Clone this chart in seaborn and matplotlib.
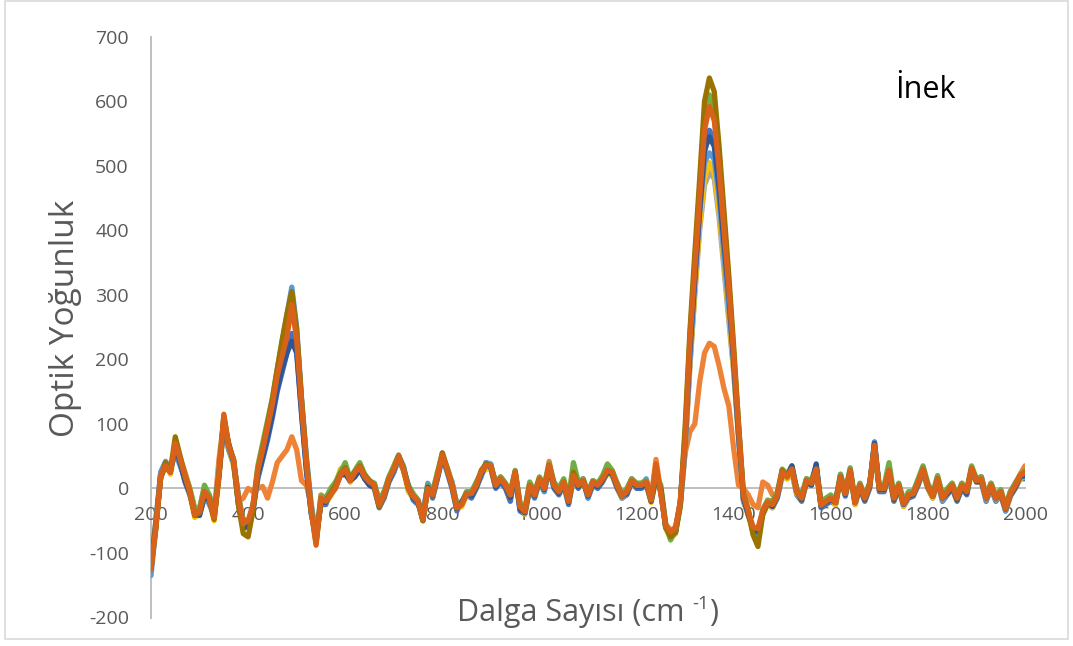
import numpy as np
import pandas as pd
import matplotlib
matplotlib.use("Agg")
import matplotlib.pyplot as plt
import seaborn as sns
from matplotlib.patches import Rectangle

# ---------------- data ----------------
wavenumber = list(range(200, 2001, 10))

s_blue = [
    -115, -50, 25, 40, 30, 60, 40, 10, -10, -35,
    -40, -15, -20, -40, 25, 100, 70, 40, -25, -60,
    -55, -35, 15, 45, 75, 110, 150, 180, 210, 240,
    215, 120, 30, -40, -70, -25, -25, -5, 5, 25,
    25, 15, 20, 28, 15, 5, 0, -30, -15, 10,
    25, 45, 28, 5, -18, -25, -40, 5, -15, 15,
    48, 25, 0, -35, -20, -10, -15, 0, 20, 40,
    30, 0, 10, 0, -20, 20, -35, -40, 0, -15,
    10, -5, 30, 0, -10, 5, -25, 15, 0, 15,
    -15, 5, 0, 10, 25, 20, 0, -15, -10, 10,
    0, 0, 5, -20, 15, -5, -60, -75, -70, -25,
    70, 200, 310, 420, 520, 555, 540, 470, 380, 295,
    190, 80, -20, -40, -65, -70, -40, -25, -30, -15,
    20, 15, 25, -10, -20, 10, 5, 35, -30, -25,
    -20, -25, 15, -12, 25, -25, 0, -20, 0, 72,
    -5, -5, 22, -20, 0, -28, -15, -12, 5, 25,
    0, -15, 10, -20, -10, 0, -20, 0, -10, 28,
    10, 10, -20, 0, -20, -10, -35, -12, 0, 15,
    15]

s_orange_low = [
    -120, -55, 15, 38, 30, 65, 48, 25, 0, -35,
    -30, 0, -10, -40, 45, 105, 60, 40, -20, -15,
    0, -5, 0, 3, -15, 10, 40, 50, 60, 80,
    60, 12, 5, -25, -80, -10, -15, -5, 5, 25,
    32, 10, 25, 32, 20, 8, 5, -22, -8, 15,
    28, 48, 28, 2, -15, -18, -45, 2, -12, 22,
    50, 28, 8, -28, -22, -10, -5, 5, 22, 35,
    32, 5, 18, 8, -8, 25, -25, -35, 8, -12,
    15, 2, 42, 5, -2, 8, -18, 22, 8, 10,
    -8, 12, 5, 18, 25, 22, 8, -10, -2, 10,
    5, 8, 12, -15, 45, -5, -55, -65, -60, -25,
    55, 88, 100, 165, 210, 225, 220, 190, 155, 128,
    62, 5, 0, -10, -25, -30, 10, 5, -10, -10,
    22, 15, 28, -2, -12, 10, 5, 28, -25, -18,
    -12, -20, 18, -5, 25, -20, 5, -12, 8, 60,
    2, 2, 25, -12, 5, -22, -10, -5, 12, 28,
    5, -10, 15, -12, -2, 8, -12, 8, -2, 30,
    15, 18, -12, 8, -12, -2, -28, -5, 8, 22,
    35]

s_gray = [
    -120, -55, 22, 40, 28, 65, 42, 18, -5, -38,
    -38, -8, -12, -42, 22, 105, 62, 42, -18, -58,
    -52, -30, 25, 55, 90, 125, 170, 215, 255, 292,
    240, 135, 45, -30, -80, -20, -18, -8, 2, 22,
    28, 15, 22, 30, 20, 12, 3, -22, -8, 18,
    28, 48, 32, 2, -10, -18, -45, 2, -8, 22,
    50, 32, 8, -28, -22, -5, -5, 8, 22, 34,
    33, 8, 12, 8, -8, 22, -25, -32, 8, -8,
    12, 2, 32, 8, -2, 12, -18, 18, 8, 10,
    -8, 12, 8, 12, 25, 22, 8, -10, -2, 15,
    8, 8, 12, -15, 25, -5, -55, -72, -66, -25,
    60, 190, 300, 400, 470, 490, 480, 420, 340, 260,
    180, 80, -15, -38, -62, -65, -36, -22, -22, -8,
    24, 20, 28, -2, -12, 15, 10, 28, -22, -18,
    -12, -20, 20, -5, 25, -20, 8, -12, 8, 60,
    2, 2, 25, -12, 8, -20, -8, -5, 12, 28,
    5, -10, 18, -12, -2, 8, -12, 8, -2, 28,
    15, 18, -12, 8, -12, -2, -28, -5, 8, 18,
    22]

s_yellow = [
    -118, -52, 18, 38, 22, 62, 40, 15, -10, -45,
    -40, -10, -20, -50, 15, 100, 60, 35, -20, -60,
    -55, -28, 22, 52, 88, 122, 165, 205, 250, 290,
    235, 132, 42, -32, -82, -22, -22, -12, 5, 30,
    35, 10, 20, 35, 15, 8, 0, -28, -12, 12,
    32, 45, 28, -5, -15, -22, -50, -2, -12, 25,
    45, 28, 2, -32, -28, -10, -10, 2, 22, 30,
    30, 2, 12, 2, -15, 20, -30, -40, 2, -12,
    10, -2, 30, 2, -8, 8, -22, 15, 2, 8,
    -12, 8, 2, 12, 22, 20, 2, -15, -8, 8,
    2, 2, 8, -22, 15, -2, -62, -78, -70, -30,
    65, 195, 305, 410, 480, 505, 490, 430, 350, 270,
    185, 85, -18, -42, -68, -72, -38, -25, -30, -12,
    22, 15, 25, -8, -18, 8, 5, 25, -28, -22,
    -18, -25, 15, -10, 22, -25, 2, -18, 2, 58,
    -2, -2, 22, -18, 2, -28, -12, -10, 8, 25,
    0, -15, 12, -18, -8, 2, -18, 2, -8, 25,
    10, 12, -18, 2, -18, -8, -35, -10, 2, 15,
    18]

s_lightblue = [
    -135, -60, 25, 42, 30, 55, 35, 15, -8, -35,
    -35, -5, -25, -40, 25, 95, 60, 40, -10, -55,
    -60, -25, 20, 50, 85, 125, 175, 225, 270, 312,
    250, 140, 50, -25, -75, -18, -20, -5, 8, 25,
    30, 18, 25, 30, 22, 10, 8, -20, -5, 12,
    25, 50, 35, 0, -15, -22, -42, 8, -5, 20,
    50, 28, 10, -25, -20, -12, -12, 5, 18, 40,
    38, 5, 15, 2, -12, 24, -32, -35, 5, -12,
    15, -5, 38, 5, -5, 12, -22, 22, 2, 12,
    -15, 10, 5, 18, 30, 22, 5, -15, -8, 15,
    5, 5, 15, -20, 22, -5, -60, -72, -68, -28,
    60, 200, 320, 430, 505, 520, 510, 450, 360, 280,
    195, 85, -15, -40, -65, -68, -38, -22, -28, -12,
    28, 20, 32, -5, -18, 15, 10, 32, -28, -20,
    -15, -22, 22, -8, 30, -22, 5, -15, 5, 72,
    2, 0, 30, -15, 5, -25, -12, -8, 10, 32,
    2, -12, 15, -18, -8, 5, -15, 5, -8, 30,
    12, 18, -18, 5, -18, -5, -35, -5, 5, 18,
    18]

s_green = [
    -122, -58, 20, 38, 28, 68, 48, 22, 0, -30,
    -32, 5, -10, -40, 25, 110, 65, 45, -12, -50,
    -55, -28, 35, 70, 105, 140, 185, 225, 265, 300,
    240, 135, 42, -30, -80, -12, -15, 0, 10, 25,
    40, 15, 28, 40, 22, 12, 8, -20, -5, 18,
    35, 52, 32, 5, -8, -18, -45, 5, -5, 25,
    55, 32, 8, -25, -22, -5, -5, 10, 25, 38,
    35, 10, 18, 8, -5, 28, -22, -32, 10, -5,
    18, 5, 38, 10, 0, 15, -15, 40, 10, 15,
    -5, 12, 8, 20, 38, 28, 8, -8, 0, 15,
    8, 8, 12, -15, 22, 5, -55, -80, -65, -22,
    85, 235, 350, 465, 575, 610, 590, 515, 415, 320,
    210, 100, -8, -32, -70, -78, -32, -18, -20, -5,
    30, 22, 35, 0, -10, 15, 12, 35, -20, -15,
    -10, -18, 22, -5, 32, -18, 8, -12, 8, 55,
    2, 5, 40, -10, 8, -20, -5, -5, 15, 35,
    8, -8, 20, -10, 0, 8, -12, 8, -2, 35,
    15, 18, -12, 8, -12, -2, -28, -5, 8, 20,
    28]

s_darkblue = [
    -118, -55, 18, 35, 25, 65, 40, 12, -8, -40,
    -42, -12, -18, -45, 20, 105, 68, 42, -22, -62,
    -58, -32, 20, 48, 80, 115, 155, 185, 210, 228,
    210, 115, 28, -38, -78, -22, -22, -8, 2, 20,
    22, 12, 18, 30, 15, 5, 2, -28, -12, 12,
    28, 50, 30, 2, -15, -22, -50, 2, -12, 18,
    50, 28, 2, -32, -22, -8, -12, 2, 22, 38,
    32, 2, 12, 2, -15, 22, -32, -38, 2, -12,
    12, -2, 32, 2, -8, 8, -22, 20, 2, 12,
    -12, 8, 2, 12, 25, 22, 2, -12, -8, 10,
    2, 2, 8, -20, 18, -2, -60, -72, -68, -22,
    75, 215, 325, 430, 525, 545, 530, 465, 380, 300,
    195, 85, -15, -40, -62, -68, -38, -22, -28, -12,
    25, 18, 35, -5, -18, 10, 5, 38, -28, -22,
    -18, -22, 18, -10, 25, -22, 2, -18, 2, 70,
    -2, -2, 25, -18, 2, -25, -12, -10, 8, 28,
    2, -12, 12, -15, -8, 2, -18, 2, -8, 30,
    10, 12, -15, 2, -15, -8, -32, -10, 2, 18,
    20]

s_olive = [
    -125, -62, 18, 40, 28, 80, 50, 18, -5, -42,
    -38, -5, -15, -48, 22, 112, 68, 45, -25, -70,
    -75, -35, 28, 62, 100, 138, 185, 230, 270, 305,
    245, 138, 42, -35, -85, -18, -18, -8, 5, 22,
    32, 15, 25, 35, 20, 12, 5, -28, -10, 15,
    30, 50, 30, 0, -12, -20, -50, 0, -10, 20,
    55, 30, 5, -30, -25, -8, -8, 5, 28, 38,
    35, 5, 15, 5, -10, 26, -28, -36, 5, -10,
    15, 0, 36, 5, -5, 10, -20, 25, 5, 12,
    -10, 10, 5, 15, 28, 25, 5, -12, -5, 12,
    5, 5, 10, -18, 22, 0, -60, -75, -68, -25,
    95, 245, 365, 480, 600, 636, 615, 530, 430, 330,
    220, 100, -8, -35, -72, -90, -40, -22, -25, -10,
    28, 18, 30, -5, -15, 12, 8, 30, -26, -20,
    -15, -22, 18, -8, 28, -22, 5, -15, 5, 65,
    0, 0, 28, -15, 5, -24, -10, -8, 10, 30,
    3, -12, 15, -15, -5, 5, -15, 5, -5, 31,
    12, 15, -15, 5, -15, -5, -31, -8, 5, 20,
    25]

s_orange_top = [
    -125, -60, 20, 35, 25, 70, 45, 20, -5, -40,
    -35, -5, -15, -45, 20, 115, 65, 45, -15, -55,
    -50, -25, 30, 60, 95, 130, 175, 205, 235, 285,
    230, 130, 40, -35, -88, -15, -20, -10, 0, 20,
    30, 12, 25, 33, 18, 10, 5, -25, -10, 15,
    30, 50, 30, 0, -12, -20, -48, 0, -10, 20,
    52, 30, 5, -30, -25, -8, -8, 5, 25, 36,
    35, 5, 15, 5, -10, 26, -28, -36, 5, -10,
    15, 0, 36, 5, -5, 10, -20, 20, 5, 12,
    -10, 10, 5, 15, 28, 25, 5, -12, -5, 12,
    5, 5, 10, -18, 38, -10, -57, -67, -62, -20,
    70, 230, 340, 450, 555, 592, 570, 495, 400, 310,
    206, 95, -10, -35, -60, -62, -34, -21, -25, -10,
    26, 18, 30, -5, -15, 12, 8, 30, -26, -20,
    -15, -22, 18, -8, 28, -22, 5, -15, 5, 67,
    0, 0, 28, -15, 5, -24, -10, -8, 10, 30,
    3, -12, 15, -15, -5, 5, -15, 5, -5, 31,
    12, 15, -15, 5, -15, -5, -31, -8, 5, 20,
    25]

series_names = ["Seri 1", "Seri 2", "Seri 3", "Seri 4", "Seri 5",
                "Seri 6", "Seri 7", "Seri 8", "Seri 9"]
series_values = [s_blue, s_orange_low, s_gray, s_yellow, s_lightblue,
                 s_green, s_darkblue, s_olive, s_orange_top]
series_colors = ["#4472C4", "#EE8236", "#A5A5A5", "#FFC000", "#5B9BD5",
                 "#70AD47", "#2F5597", "#997300", "#D9621B"]

x_ticks = [200, 400, 600, 800, 1000, 1200, 1400, 1600, 1800, 2000]
y_ticks = [-200, -100, 0, 100, 200, 300, 400, 500, 600, 700]

# ---------------- build long table ----------------
frames = []
for name, vals in zip(series_names, series_values):
    frames.append(pd.DataFrame({"x": wavenumber, "y": vals, "seri": name}))
df = pd.concat(frames, ignore_index=True)

# ---------------- plot ----------------
sns.set_theme(style="white")
plt.rcParams["font.family"] = ["Open Sans", "DejaVu Sans"]
plt.rcParams["axes.unicode_minus"] = False

W, H = 1073, 646
fig = plt.figure(figsize=(W / 100, H / 100), dpi=100)
fig.patch.set_facecolor("white")

ax = fig.add_axes([151 / W, 1 - 617.5 / H, 874 / W, (617.5 - 36.7) / H])

sns.lineplot(data=df, x="x", y="y", hue="seri", hue_order=series_names,
             palette=dict(zip(series_names, series_colors)),
             estimator=None, sort=False, legend=False, linewidth=3.8, ax=ax)

ax.set_xlim(200, 2000)
ax.set_ylim(-200, 700)
ax.set_xticks(x_ticks)
ax.set_yticks(y_ticks)
ax.set_xlabel("")
ax.set_ylabel("")
ax.set_axisbelow(True)

for sp in ["top", "right"]:
    ax.spines[sp].set_visible(False)
ax.spines["bottom"].set_position(("data", 0))
ax.spines["bottom"].set_color("#BFBFBF")
ax.spines["bottom"].set_linewidth(1.4)
ax.spines["bottom"].set_zorder(0.5)
ax.spines["left"].set_color("#BFBFBF")
ax.spines["left"].set_linewidth(1.4)
ax.spines["left"].set_zorder(0.5)

ax.tick_params(axis="both", length=0, labelsize=14, labelcolor="#595959")
ax.tick_params(axis="x", pad=13)
ax.tick_params(axis="y", pad=16)
ax.grid(False)
ax.patch.set_alpha(0)

# x-axis title with a superscript, built from pieces
renderer = fig.canvas.get_renderer()
base_y = 1 - 621 / H
t1 = fig.text(457 / W, base_y, "Dalga Sayısı (cm ", ha="left", va="baseline",
              fontsize=22, color="#595959")
bb = t1.get_window_extent(renderer)
t2 = fig.text(bb.x1 / W, base_y + 12 / H, "-1", ha="left", va="baseline",
              fontsize=13.5, color="#595959")
bb2 = t2.get_window_extent(renderer)
fig.text(bb2.x1 / W, base_y, ")", ha="left", va="baseline",
         fontsize=22, color="#595959")

fig.text(66 / W, 1 - 318 / H, "Optik Yoğunluk", rotation=90,
         ha="center", va="center", fontsize=24, color="#595959")
fig.text(895 / W, 1 - 90 / H, "İnek", ha="left", va="center",
         fontsize=22, color="black")

fig.patches.append(Rectangle((4.5 / W, 1 - 639 / H), (1068 - 4.5) / W, (639 - 1) / H,
                             transform=fig.transFigure, fill=False,
                             edgecolor="#D9D9D9", linewidth=1.2))

fig.savefig("out.png", dpi=100, facecolor="white")
